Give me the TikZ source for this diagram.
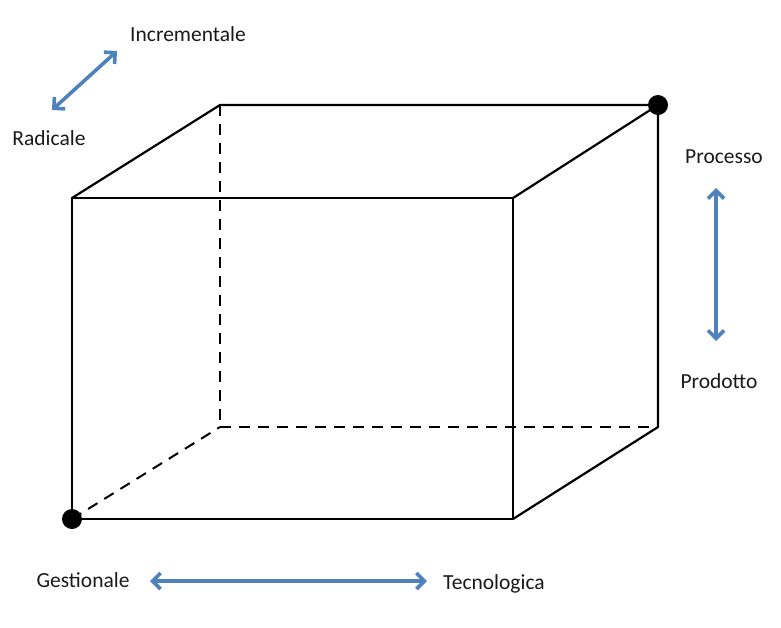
\documentclass[tikz,border=0pt]{standalone}
\usepackage{fontspec}
\setmainfont{Carlito}
\usetikzlibrary{arrows.meta}
\definecolor{arrblue}{RGB}{79,129,189}
\definecolor{txt}{RGB}{25,25,25}
\begin{document}
\begin{tikzpicture}[x=1pt,y=-1pt,
  edge/.style={line width=2.2pt,black},
  hidden/.style={line width=2pt,black,dash pattern=on 11pt off 8pt},
  dimarrow/.style={line width=3.6pt,arrblue,{Straight Barb[length=8pt,width=16pt]}-{Straight Barb[length=8pt,width=16pt]}},
  lbl/.style={text=txt,font=\fontsize{21.5}{25}\selectfont,inner sep=0pt},
  dot/.style={circle,fill=black,minimum size=20pt,inner sep=0pt}]
\useasboundingbox (0,0) rectangle (781,627);
% cube corners
\coordinate (ftl) at (72,198);
\coordinate (ftr) at (513,198);
\coordinate (fbr) at (513,519);
\coordinate (fbl) at (72,519);
\coordinate (btl) at (220,105);
\coordinate (btr) at (658,105);
\coordinate (bbr) at (658,427);
\coordinate (bbl) at (220,427);
% hidden edges
\draw[hidden] (btl) -- (bbl);
\draw[hidden] (bbl) -- (bbr);
\draw[hidden] (fbl) -- (bbl);
% visible edges
\draw[edge] (ftl) -- (ftr) -- (fbr) -- (fbl) -- cycle;
\draw[edge] (ftl) -- (btl) -- (btr) -- (ftr);
\draw[edge] (btr) -- (bbr) -- (fbr);
% dots
\node[dot] (d1) at (fbl) {};
\node[dot] (d2) at (btr) {};
% labels
\node[lbl] (inc) at (188,34) {Incrementale};
\node[lbl] (rad) at (49,138) {Radicale};
\node[lbl] (pro) at (724,157) {Processo};
\node[lbl] (prd) at (719,381) {Prodotto};
\node[lbl] (ges) at (83,580) {Gestionale};
\node[lbl] (tec) at (494,584) {Tecnologica};
% arrows
\coordinate (a1s) at (52,110);
\coordinate (a1e) at (117,51);
\coordinate (a2s) at (716,188);
\coordinate (a2e) at (716,341);
\coordinate (a3s) at (150,581);
\coordinate (a3e) at (427,581);
\draw[dimarrow] (a1s) -- (a1e);
\draw[dimarrow] (a2s) -- (a2e);
\draw[dimarrow] (a3s) -- (a3e);
\end{tikzpicture}
\end{document}
